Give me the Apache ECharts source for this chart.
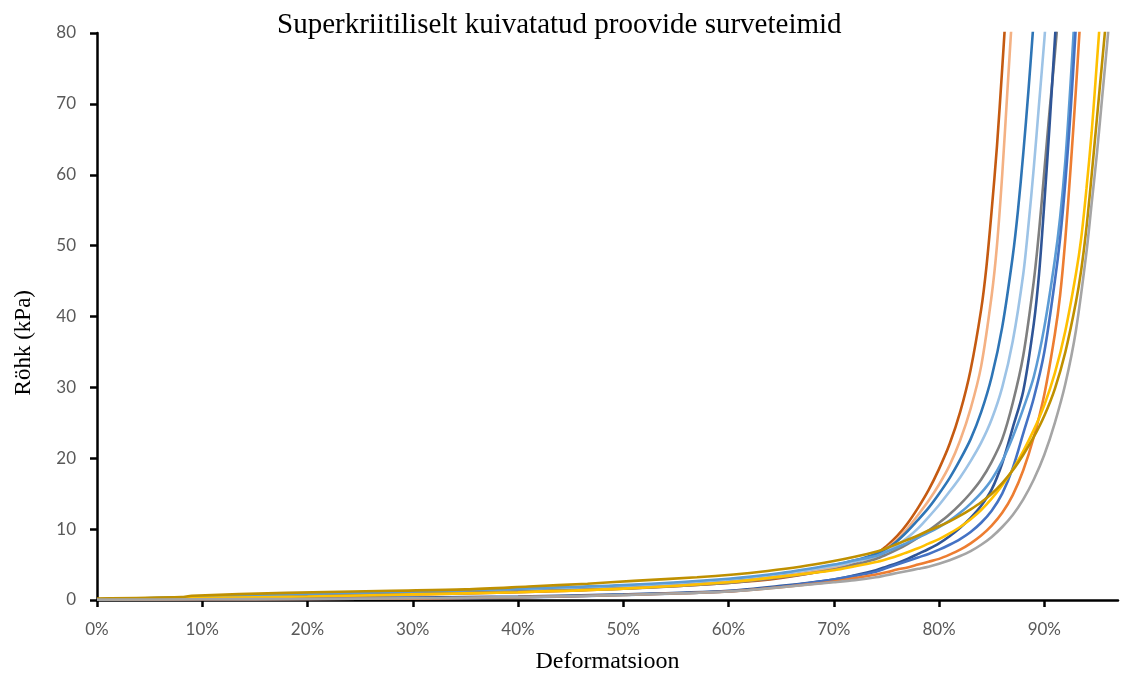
<!DOCTYPE html>
<html>
<head>
<meta charset="utf-8">
<script src="https://cdn.jsdelivr.net/npm/echarts@6/dist/echarts.min.js"></script>
<style>
  html, body { margin: 0; padding: 0; background: #fff; }
  #chart { width: 1122px; height: 679px; }
</style>
</head>
<body>
<div id="chart"></div>
<script>
// Compression curves: [deformation, pressure kPa] for each specimen
const proov1 = [[0,0.1],[0.1,0.3],[0.2,0.5],[0.3,0.8],[0.4,1.1],[0.5,1.6],[0.6,2.4],[0.65,3.1],[0.7,4.4],[0.72,5.3],[0.74,6.5],[0.75,7.6],[0.76,9.0],[0.77,10.8],[0.78,13],[0.79,15.5],[0.8,18.5],[0.81,22],[0.82,26.5],[0.83,32.5],[0.84,41],[0.845,47],[0.85,55],[0.855,64],[0.86,75],[0.863,82]];
const proov2 = [[0,0.1],[0.1,0.3],[0.2,0.5],[0.3,0.8],[0.4,1.2],[0.5,1.7],[0.6,2.6],[0.65,3.4],[0.7,4.6],[0.72,5.4],[0.74,6.4],[0.75,7.3],[0.76,8.5],[0.77,10.1],[0.78,12],[0.79,14],[0.8,16.3],[0.81,19],[0.82,22.5],[0.83,27],[0.84,33],[0.85,43],[0.855,50],[0.86,60],[0.865,72],[0.87,84]];
const proov3 = [[0,0.1],[0.1,0.4],[0.2,0.8],[0.3,1.1],[0.4,1.5],[0.5,2.0],[0.6,2.9],[0.65,3.7],[0.7,4.9],[0.72,5.6],[0.74,6.5],[0.75,7.2],[0.76,8.3],[0.77,9.7],[0.78,11.3],[0.79,13],[0.8,15],[0.81,17.2],[0.82,19.8],[0.83,22.7],[0.84,26.5],[0.85,31.5],[0.86,38.5],[0.87,48.5],[0.875,55],[0.88,63],[0.885,72],[0.89,82]];
const proov4 = [[0,0.1],[0.1,0.4],[0.2,0.8],[0.3,1.1],[0.4,1.5],[0.5,2.0],[0.6,2.9],[0.65,3.7],[0.7,4.8],[0.72,5.4],[0.74,6.1],[0.75,6.8],[0.76,7.7],[0.77,8.8],[0.78,10.1],[0.79,11.7],[0.8,13.4],[0.81,15.3],[0.82,17.3],[0.83,19.6],[0.84,22.2],[0.85,25.5],[0.86,30],[0.87,36.5],[0.88,46],[0.885,53],[0.89,61],[0.895,70],[0.9,79],[0.903,85]];
const proov5 = [[0,0.1],[0.1,0.3],[0.2,0.6],[0.3,0.9],[0.4,1.2],[0.5,1.6],[0.6,2.4],[0.65,3.2],[0.7,4.3],[0.72,5.0],[0.74,5.8],[0.75,6.4],[0.76,7.1],[0.77,7.9],[0.78,8.8],[0.79,9.8],[0.8,10.9],[0.81,12.1],[0.82,13.5],[0.83,15.1],[0.84,17],[0.85,19.5],[0.86,22.7],[0.87,27.8],[0.88,34.5],[0.89,45],[0.895,52],[0.9,60.5],[0.905,69],[0.91,77],[0.914,84]];
const proov6 = [[0,0.05],[0.1,0.15],[0.2,0.25],[0.3,0.35],[0.4,0.5],[0.5,0.8],[0.6,1.3],[0.65,2.0],[0.7,2.9],[0.72,3.5],[0.74,4.2],[0.75,4.7],[0.76,5.2],[0.77,5.8],[0.78,6.5],[0.79,7.2],[0.8,8],[0.81,9],[0.82,10.2],[0.83,11.6],[0.84,13.3],[0.85,15.6],[0.86,19.3],[0.87,24.3],[0.88,29.5],[0.89,39],[0.895,46],[0.9,56],[0.905,67],[0.91,79],[0.913,86]];
const proov7 = [[0,0.1],[0.1,0.4],[0.2,0.9],[0.3,1.2],[0.4,1.6],[0.5,2.1],[0.6,3.0],[0.65,3.8],[0.7,5.0],[0.72,5.6],[0.74,6.2],[0.75,6.8],[0.76,7.4],[0.77,8.1],[0.78,8.8],[0.79,9.5],[0.8,10.3],[0.81,11.2],[0.82,12.3],[0.83,13.6],[0.84,15.1],[0.85,17],[0.86,19.6],[0.87,23],[0.88,27],[0.89,31.5],[0.9,38.5],[0.91,48],[0.915,54],[0.92,62],[0.925,73],[0.929,83]];
const proov8 = [[0,0.05],[0.1,0.1],[0.2,0.15],[0.3,0.2],[0.4,0.35],[0.5,0.7],[0.6,1.2],[0.65,1.9],[0.7,2.9],[0.72,3.4],[0.74,4.0],[0.75,4.5],[0.76,5.0],[0.77,5.5],[0.78,6.0],[0.79,6.5],[0.8,7.1],[0.81,7.8],[0.82,8.6],[0.83,9.6],[0.84,10.9],[0.85,12.6],[0.86,15],[0.87,18.6],[0.88,23.5],[0.89,28.5],[0.9,35],[0.91,45],[0.915,51],[0.92,59],[0.925,69],[0.93,81]];
const proov9 = [[0,0.05],[0.1,0.1],[0.2,0.15],[0.3,0.2],[0.4,0.4],[0.5,0.7],[0.6,1.2],[0.65,1.8],[0.7,2.6],[0.72,3.1],[0.74,3.6],[0.75,3.9],[0.76,4.3],[0.77,4.6],[0.78,5.0],[0.79,5.4],[0.8,5.8],[0.81,6.4],[0.82,7.1],[0.83,8],[0.84,9.1],[0.85,10.5],[0.86,12.3],[0.87,14.8],[0.88,18.3],[0.89,23],[0.9,29],[0.91,37.5],[0.915,43],[0.92,51],[0.925,61],[0.93,72],[0.935,84]];
const proov10 = [[0,0.1],[0.1,0.3],[0.2,0.5],[0.3,0.8],[0.4,1.1],[0.5,1.6],[0.6,2.5],[0.65,3.3],[0.7,4.2],[0.72,4.75],[0.74,5.35],[0.75,5.75],[0.76,6.2],[0.77,6.75],[0.78,7.3],[0.79,7.95],[0.8,8.6],[0.81,9.4],[0.82,10.3],[0.83,11.4],[0.84,12.7],[0.85,14.3],[0.86,16.2],[0.87,18.4],[0.88,21],[0.89,24],[0.9,27.5],[0.91,32],[0.92,38],[0.93,46],[0.935,51],[0.94,58],[0.945,66],[0.95,76],[0.954,84]];
const proov11 = [[0,0.2],[0.08,0.4],[0.09,0.6],[0.18,1.0],[0.28,1.3],[0.35,1.5],[0.41,1.9],[0.466,2.3],[0.51,2.7],[0.57,3.2],[0.605,3.6],[0.637,4.1],[0.668,4.7],[0.7,5.5],[0.72,6.1],[0.74,6.8],[0.75,7.3],[0.76,7.9],[0.77,8.5],[0.78,9.1],[0.79,9.8],[0.8,10.4],[0.81,11.1],[0.82,11.9],[0.83,12.8],[0.84,13.8],[0.85,15],[0.86,16.5],[0.87,18.3],[0.88,20.5],[0.89,23],[0.9,26],[0.91,29.8],[0.92,35],[0.93,42],[0.935,46.5],[0.94,52.5],[0.945,60],[0.95,68],[0.955,76],[0.96,84]];
const proov12 = [[0,0.05],[0.1,0.1],[0.2,0.15],[0.3,0.25],[0.4,0.4],[0.5,0.7],[0.6,1.2],[0.65,1.8],[0.7,2.5],[0.72,2.8],[0.74,3.2],[0.75,3.5],[0.76,3.8],[0.77,4.1],[0.78,4.4],[0.79,4.7],[0.8,5.1],[0.81,5.6],[0.82,6.2],[0.83,6.9],[0.84,7.8],[0.85,8.9],[0.86,10.3],[0.87,12],[0.88,14.2],[0.89,17],[0.9,20.5],[0.91,25],[0.92,30.5],[0.93,38],[0.94,49],[0.945,56],[0.95,63],[0.955,71],[0.96,79],[0.964,86]];

const curves = [proov1, proov2, proov3, proov4, proov5, proov6, proov7, proov8, proov9, proov10, proov11, proov12];
const colors = ['#C55A11','#F4B183','#2E75B6','#9DC3E6','#7F7F7F','#2F5597','#5B9BD5','#4472C4','#ED7D31','#FFC000','#BF9000','#A5A5A5'];

const xTicks = [0, 0.1, 0.2, 0.3, 0.4, 0.5, 0.6, 0.7, 0.8, 0.9];
const yTicks = [0, 10, 20, 30, 40, 50, 60, 70, 80];

const chart = echarts.init(document.getElementById('chart'));
chart.setOption({
  animation: false,
  title: {
    text: 'Superkriitiliselt kuivatatud proovide surveteimid',
    left: 272, top: 6,
    textStyle: { fontFamily: 'Liberation Serif', fontWeight: 'normal', fontSize: 29, color: '#000' }
  },
  grid: { left: 97, right: 4, top: 33, bottom: 76 },
  xAxis: {
    type: 'value', min: 0, max: 0.97, interval: 0.1,
    name: 'Deformatsioon', nameLocation: 'middle', nameGap: 50,
    nameTextStyle: { fontFamily: 'Liberation Serif', fontSize: 24, color: '#000' },
    axisLine: { lineStyle: { color: '#000', width: 2.5 } },
    axisTick: { show: true, length: 7, lineStyle: { color: '#000', width: 2.5 }, customValues: xTicks },
    axisLabel: {
      customValues: xTicks, margin: 21,
      fontFamily: 'Lato', fontSize: 17, color: '#595959',
      formatter: v => Math.round(v * 100) + '%'
    },
    splitLine: { show: false }
  },
  yAxis: {
    type: 'value', min: 0, max: 80, interval: 10,
    axisLine: { show: true, lineStyle: { color: '#000', width: 2.5 } },
    axisTick: { show: true, length: 7, lineStyle: { color: '#000', width: 2.5 }, customValues: yTicks },
    axisLabel: { customValues: yTicks, margin: 21, fontFamily: 'Lato', fontSize: 17, color: '#595959' },
    splitLine: { show: false }
  },
  graphic: [{
    type: 'text', left: 12, top: 290, rotation: Math.PI / 2,
    style: { text: 'Röhk (kPa)', font: '23px "Liberation Serif"', fill: '#000' }
  }],
  series: curves.map((d, i) => ({
    type: 'line', name: 'Proov ' + (i + 1), data: d,
    showSymbol: false, smooth: 0.3, clip: true,
    lineStyle: { color: colors[i], width: 2.6 }
  }))
});
</script>
</body>
</html>
